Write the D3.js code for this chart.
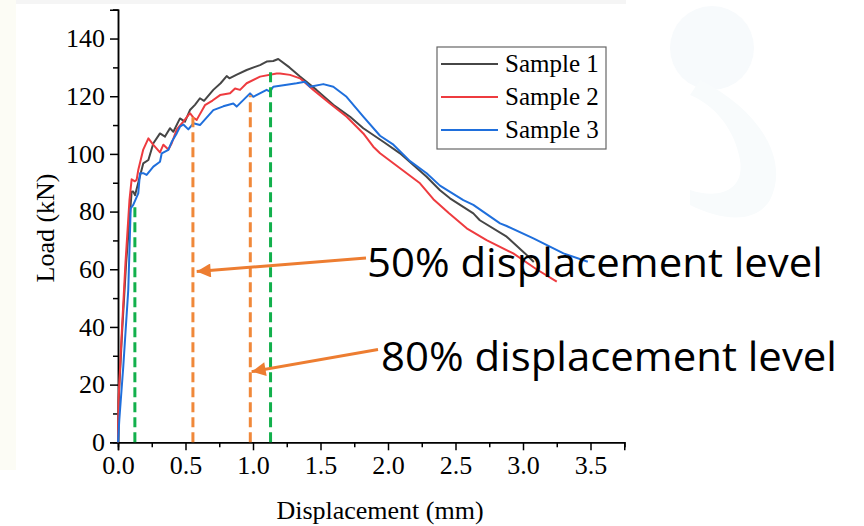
<!DOCTYPE html>
<html>
<head>
<meta charset="utf-8">
<script src="https://cdn.jsdelivr.net/npm/d3@7"></script>
<style>
  body { margin: 0; background: #fff; }
  svg { display: block; }
</style>
</head>
<body>
<script>
// load-displacement curves, [displacement (mm), load (kN)]
const sample1 = [[0,0],[0.004,14],[0.03,38],[0.06,62],[0.09,80],[0.101,86.9],[0.112,87],[0.126,85.7],[0.15,90],[0.187,96.7],[0.225,97.9],[0.262,103.7],[0.311,107.1],[0.348,106],[0.385,108.9],[0.41,107.7],[0.459,112.3],[0.496,111.2],[0.533,115.2],[0.57,117],[0.607,119.3],[0.637,118.4],[0.706,122.2],[0.76,124.5],[0.805,127],[0.825,126.2],[0.88,127.5],[0.953,129.1],[1.052,130.8],[1.101,132],[1.15,132.2],[1.187,132.9],[1.27,130],[1.348,126.8],[1.47,122.2],[1.595,117],[1.719,112.9],[1.817,108.9],[1.965,104.2],[2.089,100.2],[2.286,92.1],[2.385,87.4],[2.459,84.6],[2.632,79.4],[2.68,77],[2.879,71.3],[3.015,65.5],[3.08,62.5]];
const sample2 = [[0,0],[0.004,15],[0.03,40],[0.055,62],[0.085,84],[0.101,91.2],[0.125,90.5],[0.138,91],[0.15,94.4],[0.187,101.5],[0.225,105.4],[0.262,103.1],[0.311,100.5],[0.336,103.2],[0.373,101.5],[0.398,103.7],[0.435,108.5],[0.484,111.2],[0.533,114.1],[0.56,112.5],[0.583,111.8],[0.644,116.9],[0.7,118.5],[0.756,120.4],[0.83,121],[0.867,122.7],[0.904,122.2],[0.953,124.5],[1.052,126.8],[1.175,127.9],[1.2,127.9],[1.274,127.4],[1.348,126.2],[1.447,122.2],[1.57,117.5],[1.694,112.9],[1.817,107.1],[1.891,102.5],[1.941,100.2],[2.089,95],[2.237,89.8],[2.336,84.3],[2.45,79.5],[2.583,74.2],[2.73,70.1],[2.928,65.5],[3.1,60],[3.25,55.7]];
const sample3 = [[0,0],[0.01,8],[0.039,26.2],[0.076,52.8],[0.094,81.1],[0.113,82.3],[0.15,86.3],[0.163,93.3],[0.187,93.3],[0.212,92.7],[0.262,95.6],[0.311,97.3],[0.324,100.2],[0.373,101.4],[0.398,104.2],[0.435,107.1],[0.459,109.4],[0.484,110.2],[0.521,108.5],[0.558,110.6],[0.607,110],[0.706,115.2],[0.78,116.5],[0.854,117.5],[0.879,116.4],[0.978,121],[1.002,119.8],[1.101,122.2],[1.126,121.6],[1.15,123.3],[1.25,124],[1.323,124.5],[1.385,125],[1.422,123.3],[1.521,124.2],[1.595,123.3],[1.693,119.8],[1.817,112.9],[1.941,106.3],[2.04,103.2],[2.163,97.5],[2.286,93.3],[2.385,89],[2.558,84],[2.632,82.3],[2.83,75.9],[2.879,75],[3.077,70.7],[3.3,65.5],[3.48,62.6]];

const seriesNames = ["Sample 1", "Sample 2", "Sample 3"];
const seriesColors = ["#464646", "#ee3b3f", "#1f6fdc"];

// dashed reference lines
const refDisp = [0.125, 0.555, 0.98, 1.13];
const refTop = [83, 113, 120.3, 129];
const refColors = ["#12b04c", "#f0883a", "#f0883a", "#12b04c"];

// annotations (data units): arrow tail, arrow tip, text start
const noteTexts = ["50% displacement level", "80% displacement level"];
const noteTail = [[1.837, 63.9], [1.926, 32.2]];
const noteTip = [[0.583, 59.2], [0.99, 24.5]];
const noteText = [[1.844, 57.3], [1.948, 24.7]];

const xTicks = [0, 0.5, 1, 1.5, 2, 2.5, 3, 3.5];
const yTicks = [0, 20, 40, 60, 80, 100, 120, 140];

const width = 864, height = 526;
const x = d3.scaleLinear().domain([0, 3.75]).range([118, 624.25]);
const y = d3.scaleLinear().domain([0, 150]).range([442.3, 9.7]);

const svg = d3.select("body").append("svg")
  .attr("width", width)
  .attr("height", height);

// faint slide background bits
svg.append("rect").attr("x", 0).attr("y", 0).attr("width", 16).attr("height", 470).attr("fill", "#fcfcf5");
svg.append("rect").attr("x", 16).attr("y", 0).attr("width", 610).attr("height", 4).attr("fill", "#f5f5f5");
svg.append("circle").attr("cx", 712).attr("cy", 48).attr("r", 42).attr("fill", "#f7fafc");
svg.append("path")
  .attr("d", "M700,80 C760,110 790,160 770,200 C755,225 720,220 690,205 L690,190 C720,200 745,190 740,160 C735,130 715,105 690,95 Z")
  .attr("fill", "#f8fbfc");

const font = "'Liberation Serif', 'Times New Roman', serif";

// axes
const xAxis = d3.axisBottom(x).tickValues(xTicks).tickFormat(d3.format(".1f")).tickSize(8).tickPadding(5);
const xMinor = d3.axisBottom(x).tickValues(d3.range(0.25, 3.8, 0.5)).tickFormat("").tickSize(5);
const yAxis = d3.axisLeft(y).tickValues(yTicks).tickFormat(d3.format("d")).tickSize(8).tickPadding(5);
const yMinor = d3.axisLeft(y).tickValues(d3.range(10, 151, 20)).tickFormat("").tickSize(5);

function styleAxis(g) {
  g.select(".domain").attr("stroke", "#000").attr("stroke-width", 1.5);
  g.selectAll(".tick line").attr("stroke", "#000").attr("stroke-width", 1.5);
  g.selectAll(".tick text").attr("fill", "#000").style("font-family", font).style("font-size", "26px");
}

svg.append("g").attr("transform", `translate(0,${y(0)})`).call(xMinor).call(styleAxis);
svg.append("g").attr("transform", `translate(0,${y(0)})`).call(xAxis).call(styleAxis);
svg.append("g").attr("transform", `translate(${x(0)},0)`).call(yMinor).call(styleAxis);
svg.append("g").attr("transform", `translate(${x(0)},0)`).call(yAxis).call(styleAxis);

// axis titles
svg.append("text")
  .attr("x", 380).attr("y", 519)
  .attr("text-anchor", "middle")
  .style("font-family", font).style("font-size", "26px")
  .text("Displacement (mm)");

svg.append("text")
  .attr("transform", "translate(54,228) rotate(-90)")
  .attr("text-anchor", "middle")
  .style("font-family", font).style("font-size", "26px")
  .text("Load (kN)");

// curves
const line = d3.line().x(d => x(d[0])).y(d => y(d[1]));
[sample1, sample2, sample3].forEach((s, i) => {
  svg.append("path")
    .datum(s)
    .attr("d", line)
    .attr("fill", "none")
    .attr("stroke", seriesColors[i])
    .attr("stroke-width", 2)
    .attr("stroke-linejoin", "round");
});

// dashed reference lines
refDisp.forEach((v, i) => {
  svg.append("line")
    .attr("x1", x(v)).attr("x2", x(v))
    .attr("y1", y(0)).attr("y2", y(refTop[i]))
    .attr("stroke", refColors[i])
    .attr("stroke-width", 3)
    .attr("stroke-dasharray", "10,5");
});

// legend
const legend = svg.append("g");
legend.append("rect")
  .attr("x", 437).attr("y", 47)
  .attr("width", 169).attr("height", 102)
  .attr("fill", "#fff")
  .attr("stroke", "#666").attr("stroke-width", 1.2);
seriesNames.forEach((n, i) => {
  const ly = 64 + i * 33;
  legend.append("line")
    .attr("x1", 441).attr("x2", 498)
    .attr("y1", ly).attr("y2", ly)
    .attr("stroke", seriesColors[i]).attr("stroke-width", 2);
  legend.append("text")
    .attr("x", 505).attr("y", ly + 8)
    .style("font-family", font).style("font-size", "25px")
    .text(n);
});

// annotation arrows and labels
svg.append("defs").append("marker")
  .attr("id", "arrow")
  .attr("viewBox", "0 0 14 14")
  .attr("refX", 14).attr("refY", 7)
  .attr("markerUnits", "userSpaceOnUse")
  .attr("markerWidth", 15).attr("markerHeight", 14)
  .attr("orient", "auto")
  .append("path")
  .attr("d", "M0,0 L14,7 L0,14 Z")
  .attr("fill", "#ed7d31");

noteTexts.forEach((t, i) => {
  svg.append("line")
    .attr("x1", x(noteTail[i][0])).attr("y1", y(noteTail[i][1]))
    .attr("x2", x(noteTip[i][0])).attr("y2", y(noteTip[i][1]))
    .attr("stroke", "#ed7d31").attr("stroke-width", 3)
    .attr("marker-end", "url(#arrow)");
  svg.append("text")
    .attr("x", x(noteText[i][0])).attr("y", y(noteText[i][1]))
    .attr("textLength", 456)
    .attr("lengthAdjust", "spacingAndGlyphs")
    .style("font-family", "'Open Sans', 'Noto Sans', sans-serif")
    .style("font-size", "40px")
    .attr("fill", "#000")
    .text(t);
});
</script>
</body>
</html>
